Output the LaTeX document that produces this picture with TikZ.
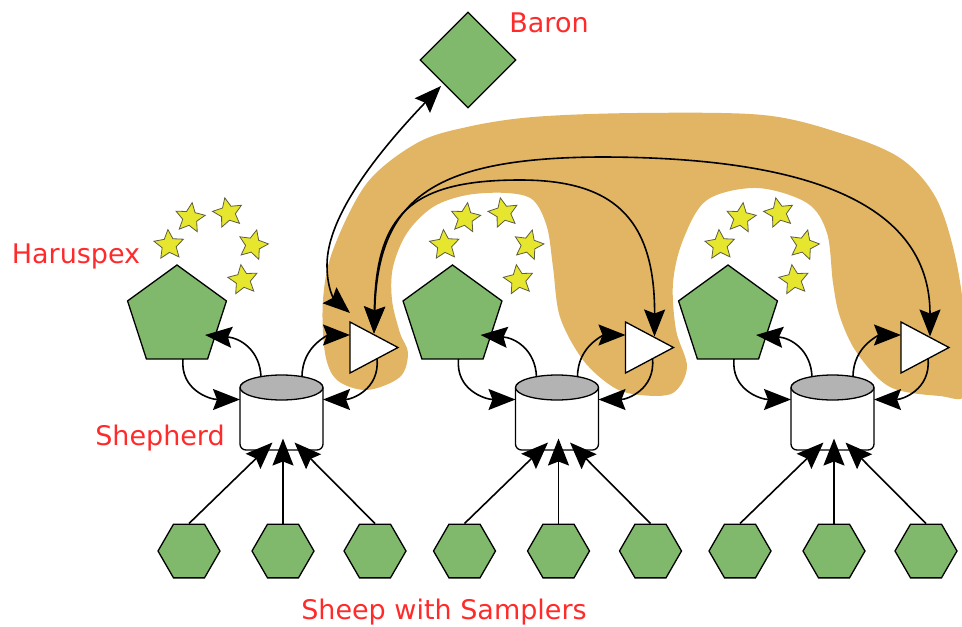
\documentclass[tikz,border=0pt]{standalone}
\usepackage{fontspec}
\setmainfont{DejaVu Sans}
\usetikzlibrary{shapes.geometric,arrows.meta,calc}
\definecolor{gfill}{HTML}{80B96B}
\definecolor{blobc}{HTML}{E1B563}
\definecolor{lblred}{HTML}{FF2A2A}
\definecolor{cyltop}{HTML}{B3B3B3}
\definecolor{staryel}{HTML}{E6E62E}
\definecolor{staredge}{HTML}{5E5E40}
\begin{document}
\begin{tikzpicture}[x=1pt,y=-1pt,
  greenshape/.style={draw=black, line width=1.3pt, fill=gfill, inner sep=0pt},
  pent/.style={greenshape, regular polygon, regular polygon sides=5, minimum size=104pt},
  hexa/.style={greenshape, regular polygon, regular polygon sides=6, minimum size=62pt},
  baronbox/.style={greenshape, diamond, minimum width=96pt, minimum height=96pt},
  starry/.style={star, star points=5, star point ratio=2.1, minimum size=31pt, inner sep=0pt, fill=staryel, draw=staredge, line width=0.8pt},
  cylbox/.style={inner sep=0pt, minimum width=83pt, minimum height=75pt},
  shapeline/.style={line width=1.3pt, draw=black},
  lbl/.style={text=lblred, font=\fontsize{27}{32}\selectfont, anchor=base, inner sep=0pt},
  bighead/.tip={Stealth[length=27pt 0 0,width=21pt 0 0,inset=4pt 0]},
  conn/.style={line width=1.6pt, -bighead},
  dconn/.style={line width=1.6pt, bighead-bighead}
]
\useasboundingbox (0,0) rectangle (962,627);

% orange blob
\fill[blobc] plot[smooth cycle, tension=0.55] coordinates {
  (325,353) (323,300) (333,250) (367,183) (417,143) (467,127) (533,117)
  (637,113) (763,115) (840,133) (900,158) (936,198) (956,260) (966,333)
  (966,394) (940,396) (890,387) (857,353) (840,317) (833,283) (827,233)
  (807,203) (757,188) (707,200) (683,240) (673,283) (676,330) (687,367)
  (673,393) (640,395) (613,387) (583,360) (560,317) (553,267) (547,227)
  (533,200) (507,193) (467,195) (433,207) (407,233) (393,267) (392,300)
  (400,333) (408,353) (400,377) (367,390) (337,380)};

% Baron
\node[baronbox] (baron) at (468,60) {};

\foreach \i/\dx in {1/0, 2/275.5, 3/551} {
  \node[pent] (p\i) at (177+\dx,317) {};
  \node[starry, rotate=-8]  (s\i-1) at (190+\dx,218) {};
  \node[starry, rotate=12]  (s\i-2) at (228+\dx,213) {};
  \node[starry, rotate=4]   (s\i-3) at (169+\dx,245) {};
  \node[starry, rotate=-14] (s\i-4) at (253+\dx,245) {};
  \node[starry, rotate=8]   (s\i-5) at (243+\dx,280) {};
  % cylinder (shepherd)
  \node[cylbox] (c\i) at (281.5+\dx,412.5) {};
  \draw[shapeline, fill=white, rounded corners=6pt] ($(c\i)+(-41.5,-25)$) -- ($(c\i)+(-41.5,37.5)$) -- ($(c\i)+(41.5,37.5)$) -- ($(c\i)+(41.5,-25)$);
  \draw[shapeline, fill=cyltop] ($(c\i)+(0,-25)$) ellipse [x radius=41.5pt, y radius=12.5pt];
  % triangle
  \coordinate (t\i) at (374+\dx,347.5);
  \draw[shapeline, fill=white] ($(t\i)+(-24,-25.5)$) -- ($(t\i)+(24,0)$) -- ($(t\i)+(-24,25.5)$) -- cycle;
  % sheep
  \node[hexa] (h\i-1) at (189+\dx,551) {};
  \node[hexa] (h\i-2) at (283+\dx,551) {};
  \node[hexa] (h\i-3) at (375+\dx,551) {};
}

% labels
\node[lbl] (baronlbl) at (549,32) {Baron};
\node[lbl] (harulbl) at (76,263) {Haruspex};
\node[lbl] (shepherdlbl) at (160,445) {Shepherd};
\node[lbl] (sheeplbl) at (444,619) {Sheep with Samplers};

% connectors within groups
\foreach \i in {1,2,3} {
  \draw[conn] (h\i-1.90) -- ($(c\i)+(-9,30)$);
  \draw[conn] (h\i-2.90) -- ($(c\i)+(1.5,26)$);
  \draw[conn] (h\i-3.90) -- ($(c\i)+(13,30)$);
  \draw[conn] ($(c\i)+(-20.5,-35.5)$) .. controls ($(c\i)+(-21.5,-62.5)$) and ($(p\i)+(63,21)$) .. ($(p\i)+(28,18)$);
  \draw[conn] ($(p\i)+(6,42)$) .. controls ($(p\i)+(3,73)$) and ($(c\i)+(-71.5,-13)$) .. ($(c\i)+(-41.5,-13)$);
  \draw[conn] ($(c\i)+(20.5,-35.5)$) .. controls ($(c\i)+(20.5,-67.5)$) and ($(t\i)+(-44,-12.5)$) .. ($(t\i)+(-24,-12.5)$);
  \draw[conn] ($(t\i)+(3,11)$) .. controls ($(t\i)+(6,42)$) and ($(c\i)+(70,-13)$) .. ($(c\i)+(41.5,-13)$);
}

% Baron link
\draw[dconn] ($(baron)+(-27,26)$) .. controls (380,150) and (327,215) .. (327,265) .. controls (327,290) and (335,300) .. ($(t1)+(-24,-34.5)$);

% long arcs between triangles
\draw[dconn] ($(t1)+(0,-14)$) .. controls (376,215) and (410,180) .. (520,180) .. controls (610,180) and (655,215) .. ($(t2)+(5,-11)$);
\draw[dconn] ($(t1)+(0,-14)$) .. controls (378,200) and (430,158) .. (600,157) .. controls (800,157) and (930,200) .. ($(t3)+(5,-11)$);
\end{tikzpicture}
\end{document}
